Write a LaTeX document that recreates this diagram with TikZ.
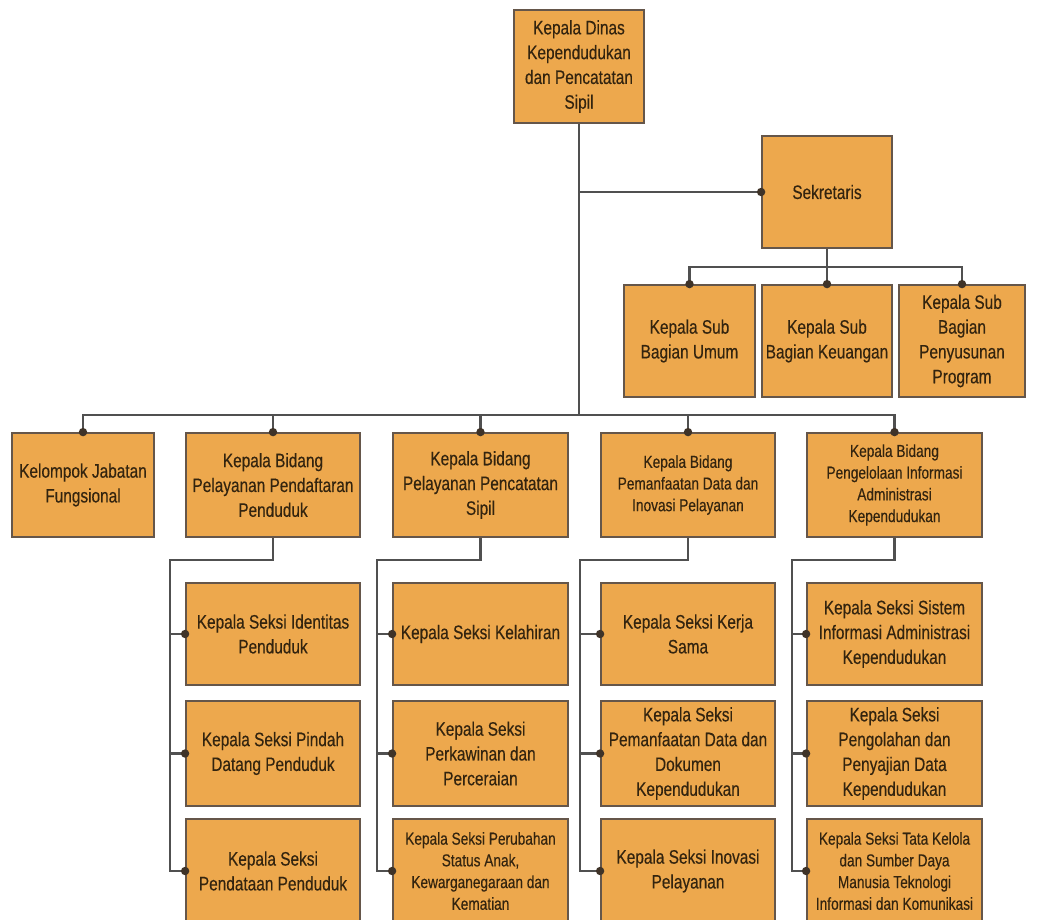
\documentclass[tikz,border=0pt]{standalone}
\usepackage{fontspec}
\newfontfamily\orgfont{Liberation Sans}[FakeStretch=0.79,FakeBold=0.3]
\begin{document}
\begin{tikzpicture}[x=1pt,y=-1pt,
  box/.style={draw=boxline,line width=1.8pt,fill=boxfill,text=txt,align=center,
    inner sep=0pt,anchor=center,font=\orgfont\fontsize{19.5}{24.8}\selectfont},
  smalltxt/.style={font=\orgfont\fontsize{17.3}{21.7}\selectfont},
  conn/.style={draw=connc,line width=2.4pt},
  jdot/.style={fill=dotc,draw=none}]
\definecolor{boxfill}{HTML}{EDA84D}
\definecolor{boxline}{HTML}{65564A}
\definecolor{txt}{HTML}{33240F}
\definecolor{connc}{HTML}{505050}
\definecolor{dotc}{HTML}{3F3328}
\useasboundingbox (0,0) rectangle (1064,919);
\clip (0,0) rectangle (1064,919);
\fill[white] (0,0) rectangle (1064,919);

% top levels
\node[box,minimum width=130pt,minimum height=113pt] (top) at (579,66.5) {Kepala Dinas\\Kependudukan\\dan Pencatatan\\Sipil};
\node[box,minimum width=130pt,minimum height=112pt] (sek) at (827,192) {Sekretaris};
\node[box,minimum width=131pt,minimum height=112pt] (sub1) at (689.5,341) {Kepala Sub\\Bagian Umum};
\node[box,minimum width=130pt,minimum height=112pt] (sub2) at (827,341) {Kepala Sub\\Bagian Keuangan};
\node[box,minimum width=126pt,minimum height=112pt] (sub3) at (962,341) {Kepala Sub\\Bagian\\Penyusunan\\Program};

% row 1
\node[box,minimum width=142pt,minimum height=104pt] (kel) at (83,485) {Kelompok Jabatan\\Fungsional};
\node[box,minimum width=174pt,minimum height=104pt] (b1) at (273,485) {Kepala Bidang\\Pelayanan Pendaftaran\\Penduduk};
\node[box,minimum width=175pt,minimum height=104pt] (b2) at (480.5,485) {Kepala Bidang\\Pelayanan Pencatatan\\Sipil};
\node[box,smalltxt,minimum width=174pt,minimum height=104pt] (b3) at (688,485) {Kepala Bidang\\Pemanfaatan Data dan\\Inovasi Pelayanan};
\node[box,smalltxt,minimum width=175pt,minimum height=104pt] (b4) at (894.5,485) {Kepala Bidang\\Pengelolaan Informasi\\Administrasi\\Kependudukan};

% column 1
\node[box,minimum width=174pt,minimum height=102pt] (s11) at (273,634) {Kepala Seksi Identitas\\Penduduk};
\node[box,minimum width=174pt,minimum height=105pt] (s12) at (273,753.5) {Kepala Seksi Pindah\\Datang Penduduk};
\node[box,minimum width=174pt,minimum height=104pt] (s13) at (273,871) {Kepala Seksi\\Pendataan Penduduk};
% column 2
\node[box,minimum width=175pt,minimum height=102pt] (s21) at (480.5,634) {Kepala Seksi Kelahiran};
\node[box,minimum width=175pt,minimum height=105pt] (s22) at (480.5,753.5) {Kepala Seksi\\Perkawinan dan\\Perceraian};
\node[box,smalltxt,minimum width=175pt,minimum height=104pt] (s23) at (480.5,871) {Kepala Seksi Perubahan\\Status Anak,\\Kewarganegaraan dan\\Kematian};
% column 3
\node[box,minimum width=174pt,minimum height=102pt] (s31) at (688,634) {Kepala Seksi Kerja\\Sama};
\node[box,minimum width=174pt,minimum height=105pt] (s32) at (688,753.5) {Kepala Seksi\\Pemanfaatan Data dan\\Dokumen\\Kependudukan};
\node[box,minimum width=174pt,minimum height=104pt] (s33) at (688,871) {Kepala Seksi Inovasi\\Pelayanan};
% column 4
\node[box,minimum width=175pt,minimum height=102pt] (s41) at (894.5,634) {Kepala Seksi Sistem\\Informasi Administrasi\\Kependudukan};
\node[box,minimum width=175pt,minimum height=105pt] (s42) at (894.5,753.5) {Kepala Seksi\\Pengolahan dan\\Penyajian Data\\Kependudukan};
\node[box,smalltxt,minimum width=175pt,minimum height=104pt] (s43) at (894.5,871) {Kepala Seksi Tata Kelola\\dan Sumber Daya\\Manusia Teknologi\\Informasi dan Komunikasi};

% helper coordinates
\coordinate (bar) at (0,415);
\coordinate (sbar) at (0,267);
\coordinate (v1) at (170,560);
\coordinate (v2) at (377,560);
\coordinate (v3) at (580,560);
\coordinate (v4) at (792,560);

% trunk and sekretaris
\draw[conn] (top.south) -- (top.south |- bar);
\draw[conn] (top.south |- sek.west) -- (sek.west);
\draw[conn] (sek.south) -- (sek.south |- sbar);
\draw[conn] (sub1.north) -- (sub1.north |- sbar) -- (sub3.north |- sbar) -- (sub3.north);
\draw[conn] (sub2.north) -- (sub2.north |- sbar);

% main bar
\draw[conn] (kel.north) -- (kel.north |- bar) -- (b4.north |- bar) -- (b4.north);
\foreach \b in {b1,b2,b3} \draw[conn] (\b.north) -- (\b.north |- bar);

% columns
\foreach \i/\v in {1/v1,2/v2,3/v3,4/v4} {
  \draw[conn] (b\i.south) -- (b\i.south |- \v) -- (\v) -- (\v |- s\i3.west) -- (s\i3.west);
  \draw[conn] (\v |- s\i1.west) -- (s\i1.west);
  \draw[conn] (\v |- s\i2.west) -- (s\i2.west);
}

% junction dots
\foreach \n in {sek.west,sub1.north,sub2.north,sub3.north,kel.north,b1.north,b2.north,b3.north,b4.north,
  s11.west,s12.west,s13.west,s21.west,s22.west,s23.west,s31.west,s32.west,s33.west,s41.west,s42.west,s43.west}
  \fill[jdot] (\n) circle (4.2pt);
\end{tikzpicture}
\end{document}
